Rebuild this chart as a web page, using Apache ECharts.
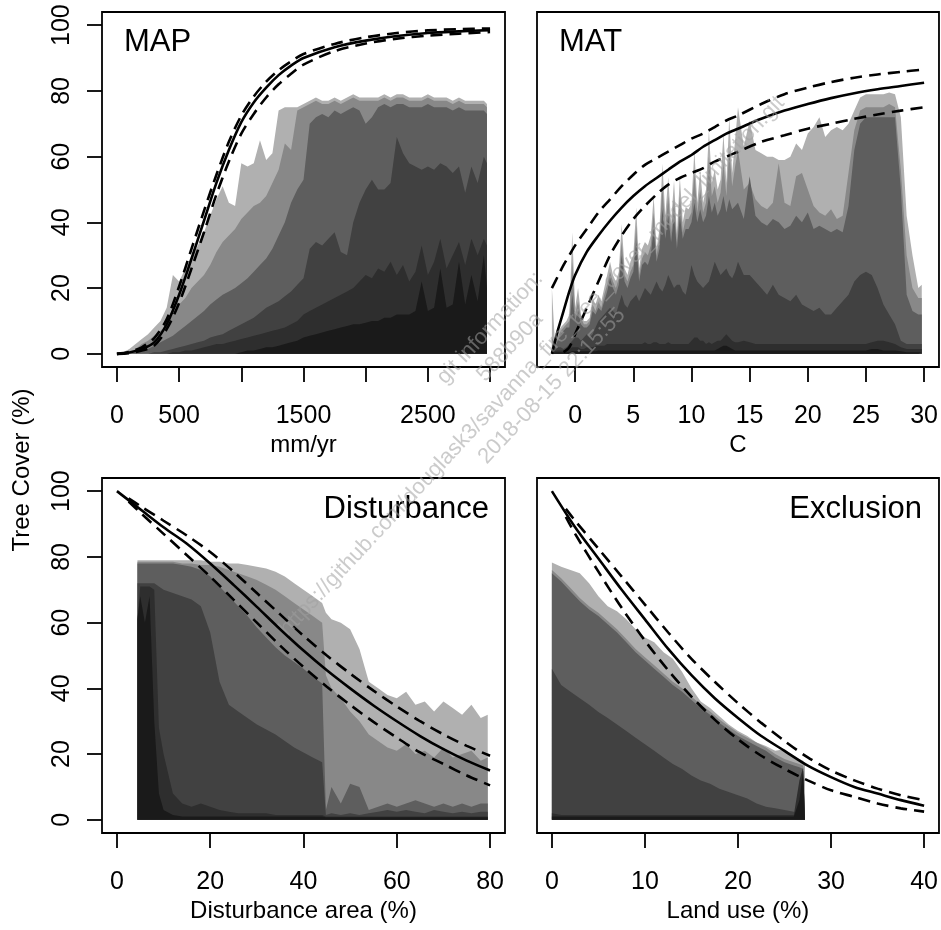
<!DOCTYPE html>
<html><head><meta charset="utf-8">
<script src="https://cdn.jsdelivr.net/npm/echarts@6/dist/echarts.min.js"></script>
<style>html,body{margin:0;padding:0;background:#fff}#c{width:941px;height:930px}</style>
</head><body><div id="c"></div>
<script>
// ---------------- DATA ----------------
const panelTitles = ['MAP', 'MAT', 'Disturbance', 'Exclusion'];
const xTitles = ['mm/yr', 'C', 'Disturbance area (%)', 'Land use (%)'];
const yTitle = 'Tree Cover (%)';

const mapTicks = [0, 500, 1000, 1500, 2000, 2500, 3000];
const mapLabels = [0, 500, 1500, 2500];
const matTicks = [0, 5, 10, 15, 20, 25, 30];
const distTicks = [0, 20, 40, 60, 80];
const exclTicks = [0, 10, 20, 30, 40];
const yTicks = [0, 20, 40, 60, 80, 100];

// ---- MAP (mm/yr) quantile bands ----
const map_x = [0,50,100,150,200,250,300,350,400,450,
  500,550,600,650,700,750,800,850,900,950,
  1000,1050,1100,1150,1200,1250,1300,1350,1400,1450,
  1500,1550,1600,1650,1700,1750,1800,1850,1900,1950,
  2000,2050,2100,2150,2200,2250,2300,2350,2400,2450,
  2500,2550,2600,2650,2700,2750,2800,2850,2900,2950,2975];
const map_b1 = [0,0.5,1.5,3,4.5,6,8,10,14,24,
  22,26,29,33,37,42,47,51,46,45,
  58,57,58,65,59,61,74,75,75,75,
  76,77,78,77,77,78,77,78,79,78,
  78,78,78,79,78,79,79,78,78,78,
  79,78,78,78,77,78,77,77,77,77,76];
const map_b2 = [0,0,0.5,1.5,3,4,5.5,7,9,12,
  15,17,20,22,24,27,31,34,36,38,
  41,43,45,46,48,52,56,64,62,74,
  75,76,77,76,76,77,76,77,78,77,
  77,77,77,78,77,78,78,77,77,77,
  78,77,77,77,76,77,76,76,76,76,75];
const map_b3 = [0,0,0,0.5,1,1.5,2.5,3.5,4.5,5.5,
  7,8.5,10,11.5,13,15,16.5,18,19,20,
  21.5,23,25,27,29,32,36,40,46,50,
  53,70,72,73,72,74,73,74,75,74,
  70,72,75,76,75,76,76,75,75,75,
  76,75,75,75,74,75,74,74,74,74,73];
const map_b4 = [0,0,0,0,0,0,0.5,0.5,1,1.5,
  2,2.5,3,3.5,4,5,5.5,6,7,8,
  9,10,11,12.5,14,15,16,17.5,19,21,
  23,32,34,33,35,37,31,30,40,46,
  50,53,50,50,52,66,61,58,57,56,
  57,56,58,57,55,57,49,57,52,60,58];
const map_b5 = [0,0,0,0,0,0,0,0,0,0.5,
  0.5,1,1,1.5,2,2.5,3,3,3.5,4,
  4.5,5,5.5,6,6.5,7,7.5,8,9,10,
  12,13,14,15,16,17,18,19,20,22,
  24,23,26,25,28,24,27,22,25,33,
  24,28,35,26,30,34,27,35,30,35,33];
const map_b6 = [0,0,0,0,0,0,0,0,0,0,
  0,0,0,0,0,0,0,0,0,0,
  0.5,1,1,1.5,2,2,2.5,3,3.5,4,
  5,5.5,6,6.5,7,7.5,8,8.5,9,9,
  9.5,10,10,11,11,12,12,12,13,22,
  13,14,26,14,15,28,15,24,16,30,20];
const map_cx = [0,100,200,300,400,500,600,700,800,900,1000,1100,1200,1300,1400,1500,1750,2000,2250,2500,2750,3000];
const map_fit = [0,0.4,1.5,3.5,9,18,29,40.5,52,62,70.5,76.5,81,84.8,87.7,90,93.3,95.3,96.7,97.6,98.1,98.5];
const map_hi = [0,0.6,2,4.8,10.5,20.5,32,43.5,54.5,64.5,72.5,78.3,82.8,86.3,89,91.2,94.3,96.3,97.6,98.4,98.8,99];
const map_lo = [0,0.2,1,2.5,7.5,15.5,26,37,48.5,58.5,67,73,78,82,85.2,88,92.1,94.4,95.9,96.8,97.4,97.9];

// ---- MAT (C) quantile bands ----
const mat_x = [-2,-1.75,-1.5,-1.25,-1,-0.75,-0.5,-0.25,0,0.25,
  0.5,0.75,1,1.25,1.5,1.75,2,2.25,2.5,2.75,
  3,3.25,3.5,3.75,4,4.25,4.5,4.75,5,5.25,
  5.5,5.75,6,6.25,6.5,6.75,7,7.25,7.5,7.75,
  8,8.25,8.5,8.75,9,9.25,9.5,9.75,10,10.25,
  10.5,10.75,11,11.25,11.5,11.75,12,12.25,12.5,12.75,
  13,13.25,13.5,13.75,14,
  14.5,15,15.5,16,16.5,17,17.5,18,18.5,19,
  19.5,20,20.5,21,21.5,22,22.5,23,23.5,24,
  24.5,25,25.5,26,26.5,27,27.5,28,28.5,29,
  29.5,29.8];
const mat_b1 = [20,4,6,8,9,10,12,37,14,20,
  12,10,10,11,17,15,18,16,20,24,
  28,24,22,25,39.5,26,24,28,30,44.6,
  26,32,34,33,36,48,32,38,57.8,42,
  53.7,40,52.7,36.5,53.8,40,44.6,44,46,61.9,
  46,55.8,46,50,68,52,56,50,53,67,
  52,72,55,65,75,
  63,71,62,61,60,60,59,59,60,64,
  62,67,69,72,66,68,69,68,70,74,
  78,79,79,79,79,79.5,79,72,42,30,
  20,21];
const mat_b2 = [5,3,5,7,8,9,10,28,12,16,
  11,9,9,10,15,13,16,14,18,21,
  25,22,20,23,34,24,22,25,27,39,
  24,29,31,30,33,43,30,35,51,38,
  48,37,47,34,48,37,41,41,43,55,
  43,50,43,46,60,48,51,46,49,58,
  48,62,51,57,62,
  50,52,47,45,44,46,58,46,45,54,
  55,50,45,43,42,44,41,42,55,68,
  74,75,75,75,75,76,75,56,30,20,
  17,17];
const mat_b3 = [2,2,4,6,7,8,8,18,10,13,
  9,8,8,9,13,12,14,13,16,19,
  23,20,18,21,30,22,20,23,25,34,
  22,27,28,27,30,38,28,32,44,35,
  42,34,42,32,42,35,38,38,40,46,
  40,44,40,42,48,43,46,42,44,48,
  43,47,44,45,46,
  41,54,42,40,39,41,40,38,39,42,
  40,43,38,39,38,37,38,37,45,62,
  70,72,72,72,72,72,72,50,18,13,
  12,12];
const mat_b4 = [1,1,2,2,1.5,2,3,4,5,5,
  4,5,6,5,6,8,10,11,12,13,
  14,13,12,15,18,15,14,16,17,18,
  16,18,20,19,18,20,22,20,19,21,
  24,22,20,21,21,19,18,22,27,24,
  22,21,20,21,22,25,28,26,24,25,
  26,24,23,25,28,
  24,24,22,20,18,21,18,17,16,18,
  15,14,13,14,12,12,14,16,18,22,
  24,25,24,20,15,12,9,4,3,3,
  3,3];
const mat_b5 = [0.5,0.8,1,1,1,1.2,1.5,2,2,2,
  1.5,1.5,2,2,2,2.5,2.5,2.5,2.5,3,
  3,3,3,3,3,3,3,3,3,3,
  3,3,3.5,3,3,3.5,3.5,3,3,3,
  3.5,3,3,3,3,3,3,3,4,5,
  5,4,4,3,3.5,3,3.5,4,4,5,
  6,5,4,3.5,3.5,
  4,3.5,3,3,3,3,3,3,3,3,
  3,3,3,3,3,3,3,3,3,3,
  3,3,3.5,4,4,3.5,3,2,1.5,1.5,
  1.5,1.5];
const mat_b6 = [0.3,0.4,0.5,0.5,0.5,0.5,0.5,0.8,0.8,0.8,
  0.8,0.8,0.8,0.8,0.8,0.8,1,1,1,1,
  1,1,1,1,1,1,1,1,1,1,
  1,1,1,1,1,1,1,1,1,1,
  1,1,1,1,1,1,1,1,1,1,
  1,1,1,1,1,1,1,1.5,2,2.5,
  2.5,2,1.5,1,1,
  1,1,1,1,1,1,1,1,1,1,
  1,1,1,1,1,1,1,1,1,1,
  1,1,1.5,1.5,1,1,1,0.8,0.5,0.5,
  0.5,0.5];
const mat_cx = [-2,-1.5,-1,-0.5,0,1,2,3,4,5,6,7,8,9,10,11,12,13,14,16,18,20,22,24,26,28,30];
const mat_fit = [0,7,13,19,24,31,36,40.5,44.5,48,51,53.5,56,58.5,60.5,63,65,67,68.5,71.5,74,76,77.8,79.3,80.5,81.5,82.5];
const mat_hi = [20,23.5,27,30,33,38,43,47,51,54.5,57.5,59.5,61.5,63.5,65.5,67,69,71,72.5,76,79,81,82.7,84,85,85.8,86.5];
const mat_lo_x = [-1,-0.5,0,1,2,3,4,5,6,7,8,9,10,11,12,13,14,16,18,20,22,24,26,28,30];
const mat_lo = [0.5,2,6,14,22,30,36,41,45,48.5,51.5,53.5,55,56.5,58.5,60,61.5,64.5,66.5,68.5,70,71.5,72.8,74,75];

// ---- Disturbance quantile bands ----
const dist_x = [4.4,5,6,7,8,9,10,
  12,14,16,18,20,22,24,26,28,30,32,34,36,38,40,42,44,
  44.8,
  46,48,50,52,54,56,58,60,62,64,66,68,70,72,74,76,78,
  79.5];
const dist_b1 = [79,79,79,79,79,79,79,
  79,79,79,79,78.5,78.5,78,78,77.5,77,76.5,75.5,74,72,70,68,66,
  63,
  61,60,58,52,42,40,38,37,39,35,36,33,36,34,32,35,31,
  32];
const dist_b2 = [78.5,78.5,78.5,78.5,78.5,78.5,78.5,
  78.5,78,78,77.5,77.5,77,76,75,74,73,71.5,70,68,66,64,62,60,
  44,
  40,37,33,30,26,24,22,21,23,20,21,19,22,19,20,21,18,
  19];
const dist_b3 = [78,78,78,78,78,78,78,
  78,77.5,77,76,74,71,68,65,62,58.5,55.5,52.5,50,48,46,43.5,41.5,
  3,
  10,5,11,10,3,4,5,4,5,6,5,4,5,4,5,4,5,
  5];
const dist_b4 = [72,72,72,72,72,71,70,
  69,68,67,65,57,42,35,33,31,29,27.5,26,24,22,20.5,19,17.5,
  1.5,
  2,1.5,2,1.5,2,2.5,3,2.5,3,2.5,2,3,2.5,2,2.5,2,2.5,
  2.5];
const dist_b5 = [61,71,71,71,70,28,20,
  8,5,4,5,4,3,2.5,2,2,2,2,1.5,1.5,1.5,1.5,1.5,1.5,
  1,
  1,1,1,1,1,1,1,1,1,1,1,1,1,1,1,1,1,
  1];
const dist_b6 = [61,68,60,68,30,8,3,
  1.5,1,1,1,1,1,1,1,1,1,1,1,1,1,1,1,1,
  0.8,
  0.8,0.8,0.8,0.8,0.8,0.8,0.8,0.8,0.8,0.8,0.8,0.8,0.8,0.8,0.8,0.8,0.8,
  0.8];
const dist_cx = [0,5,10,15,20,25,30,35,40,45,50,55,60,65,70,75,80];
const dist_fit = [100,94.5,89,84,78,71.5,64.8,58,51.5,45.5,40,34.8,30,25.5,21.5,18,15];
const dist_band_x = [2.5,5,10,15,20,25,30,35,40,45,50,55,60,65,70,75,80];
const dist_hi = [97.8,95.5,91,86.5,81.5,75.5,69,62.5,56,50,44.5,39.3,34.5,30,26,22.5,19.5];
const dist_lo = [96.8,93.5,87,80.5,74,67,60,53,46.5,40.5,35,29.8,25,20.5,17,13.5,10.5];

// ---- Exclusion (land use) quantile bands ----
const excl_x = [0,1,2,3,4,5,6,7,8,9,
  10,11,12,13,14,15,16,17,18,19,
  20,21,22,23,24,25,26,26.6,27,27.2];
const excl_b1 = [78.3,77,76,75,72,68,65,63.5,61,58,
  55.5,54,51,49,45,40,36,34,31.5,29,
  27,25.5,23.5,22.5,21,21.5,19.5,18.5,18,17];
const excl_b2 = [76,73.5,70.5,67.5,65,63,60.5,58,55,52,
  49.5,47,44.5,42,40,37.5,35,33,30.5,28.5,
  26.5,25,23.5,22,20,18.5,17.5,17,16.5,16];
const excl_b3 = [75,72.5,69.5,66.5,64,62,59.5,57,54,51,
  48.5,46,43.5,41,39,36.5,34,32,29.5,27.5,
  25.5,24,22.5,21,19,17.5,16.5,16,15.5,15];
const excl_b4 = [46,41,39,37,35,32.8,31,29,27,25,
  23,21,19,17,15.5,13.5,12,11,9.5,8.5,
  7.5,6.5,5,4,3.5,3,2.5,2,2,2];
const excl_b5 = [2,1.5,1.5,1.5,1.5,1.5,1.5,1.5,1.5,1.5,
  1.5,1.5,1.5,1.5,1.5,1.5,1.5,1.5,1.5,1.5,
  1.5,1.5,1.5,1.5,1.5,1.5,1.5,12,16,16];
const excl_b6 = [1,1,1,1,1,1,1,1,1,1,
  1,1,1,1,1,1,1,1,1,1,
  1,1,1,1,1,1,1,6,15,15];
const excl_cx = [0,2.5,5,7.5,10,12.5,15,17.5,20,22.5,25,27.5,30,32.5,35,37.5,40];
const excl_fit = [100,89,79.5,70,61,52,44,37,31,25.5,21,16.5,13,10,8,6,4.3];
const excl_band_x = [1.5,2.5,5,7.5,10,12.5,15,17.5,20,22.5,25,27.5,30,32.5,35,37.5,40];
const excl_hi = [94.6,91,82.5,74,65.5,57,49,42,35.5,29.5,24,19,15,12,9.5,7.5,6];
const excl_lo = [92.2,87,75.5,64.5,54.5,45.5,37.5,30.5,24.5,19.5,15.5,12,9,7,5,3.5,2.5];

const watermark = ['git information:', '588b90a',
  'https://github.com/douglask3/savanna_fire_tree_cover_model_limitation.git', '2018-08-15 22:15:55'];

// ---------------- CHART ----------------
const FONT = '"Liberation Sans", Arial, sans-serif';
const greys = ['#b0b0b0', '#888888', '#5e5e5e', '#414141', '#2e2e2e', '#1a1a1a'];

const grids = [
  {left: 102, top: 12, width: 403, height: 355},
  {left: 537, top: 12, width: 402, height: 355},
  {left: 102, top: 478, width: 403, height: 355},
  {left: 537, top: 478, width: 402, height: 355}
].map(g => Object.assign(g, {show: true, borderColor: '#000', borderWidth: 1.8, backgroundColor: 'transparent'}));

const xRanges = [[-120, 3120], [-3.28, 31.28], [-3.2, 83.2], [-1.6, 41.6]];
const xTickSets = [mapTicks, matTicks, distTicks, exclTicks];
const xLabelSets = [mapLabels, matTicks, distTicks, exclTicks];

const xAxes = xRanges.map((r, i) => ({
  type: 'value', gridIndex: i, min: r[0], max: r[1],
  axisLine: {show: false, onZero: false},
  splitLine: {show: false},
  axisTick: {show: true, inside: false, length: 15, lineStyle: {color: '#000', width: 1.8}, customValues: xTickSets[i]},
  axisLabel: {show: true, customValues: xLabelSets[i], fontSize: 25, color: '#000', fontFamily: FONT, margin: 37,
    formatter: v => String(v)},
  name: xTitles[i], nameLocation: 'middle', nameGap: 66,
  nameTextStyle: {fontSize: 24, color: '#000', fontFamily: FONT}
}));

const yAxes = [0, 1, 2, 3].map(i => ({
  type: 'value', gridIndex: i, min: -4, max: 104,
  axisLine: {show: false, onZero: false},
  splitLine: {show: false},
  axisTick: {show: i % 2 === 0, inside: false, length: 15, lineStyle: {color: '#000', width: 1.8}, customValues: yTicks},
  axisLabel: {show: i % 2 === 0, customValues: yTicks, rotate: 90, fontSize: 25, color: '#000', fontFamily: FONT, margin: 27,
    formatter: v => String(v)}
}));

const series = [];
function addBands(p, xs, bands) {
  bands.forEach((b, k) => {
    if (b.length !== xs.length) console.warn('length mismatch panel', p, 'band', k, b.length, xs.length);
    series.push({
      type: 'line', xAxisIndex: p, yAxisIndex: p, silent: true,
      data: xs.map((x, j) => [x, b[j]]),
      showSymbol: false, symbol: 'none',
      lineStyle: {width: 0, opacity: 0},
      areaStyle: {color: greys[k], opacity: 1},
      z: 2
    });
  });
}
function addCurve(p, xs, ys, dashed) {
  series.push({
    type: 'line', xAxisIndex: p, yAxisIndex: p, silent: true,
    data: xs.map((x, j) => [x, ys[j]]),
    showSymbol: false, symbol: 'none', smooth: 0.3,
    lineStyle: {color: '#000', width: 2.6, type: dashed ? [12, 7] : 'solid'},
    z: 3
  });
}
addBands(0, map_x, [map_b1, map_b2, map_b3, map_b4, map_b5, map_b6]);
addCurve(0, map_cx, map_fit, false);
addCurve(0, map_cx, map_hi, true);
addCurve(0, map_cx, map_lo, true);

addBands(1, mat_x, [mat_b1, mat_b2, mat_b3, mat_b4, mat_b5, mat_b6]);
addCurve(1, mat_cx, mat_fit, false);
addCurve(1, mat_cx, mat_hi, true);
addCurve(1, mat_lo_x, mat_lo, true);

addBands(2, dist_x, [dist_b1, dist_b2, dist_b3, dist_b4, dist_b5, dist_b6]);
addCurve(2, dist_cx, dist_fit, false);
addCurve(2, dist_band_x, dist_hi, true);
addCurve(2, dist_band_x, dist_lo, true);

addBands(3, excl_x, [excl_b1, excl_b2, excl_b3, excl_b4, excl_b5, excl_b6]);
addCurve(3, excl_cx, excl_fit, false);
addCurve(3, excl_band_x, excl_hi, true);
addCurve(3, excl_band_x, excl_lo, true);

const titleFont = '31px ' + FONT;
const graphic = [
  {type: 'text', x: 124, y: 42, z: 20, style: {text: panelTitles[0], font: titleFont, fill: '#000', textAlign: 'left', textVerticalAlign: 'middle'}},
  {type: 'text', x: 559, y: 42, z: 20, style: {text: panelTitles[1], font: titleFont, fill: '#000', textAlign: 'left', textVerticalAlign: 'middle'}},
  {type: 'text', x: 489, y: 509, z: 20, style: {text: panelTitles[2], font: titleFont, fill: '#000', textAlign: 'right', textVerticalAlign: 'middle'}},
  {type: 'text', x: 922, y: 509, z: 20, style: {text: panelTitles[3], font: titleFont, fill: '#000', textAlign: 'right', textVerticalAlign: 'middle'}},
  {type: 'text', x: 22, y: 470, rotation: Math.PI / 2, z: 20, style: {text: yTitle, font: '24px ' + FONT, fill: '#000', textAlign: 'center', textVerticalAlign: 'middle'}}
];
const wmPos = [[490, 328], [510, 347], [532, 366], [552, 386]];
watermark.forEach((t, i) => {
  graphic.push({type: 'text', x: wmPos[i][0], y: wmPos[i][1], rotation: 0.82, z: 30,
    style: {text: t, font: '22px ' + FONT, fill: 'rgba(160,160,160,0.55)', textAlign: 'center', textVerticalAlign: 'middle'}});
});

const chart = echarts.init(document.getElementById('c'), null, {renderer: 'canvas'});
chart.setOption({
  animation: false,
  backgroundColor: '#fff',
  grid: grids,
  xAxis: xAxes,
  yAxis: yAxes,
  series: series,
  graphic: graphic
});
</script>
</body></html>
